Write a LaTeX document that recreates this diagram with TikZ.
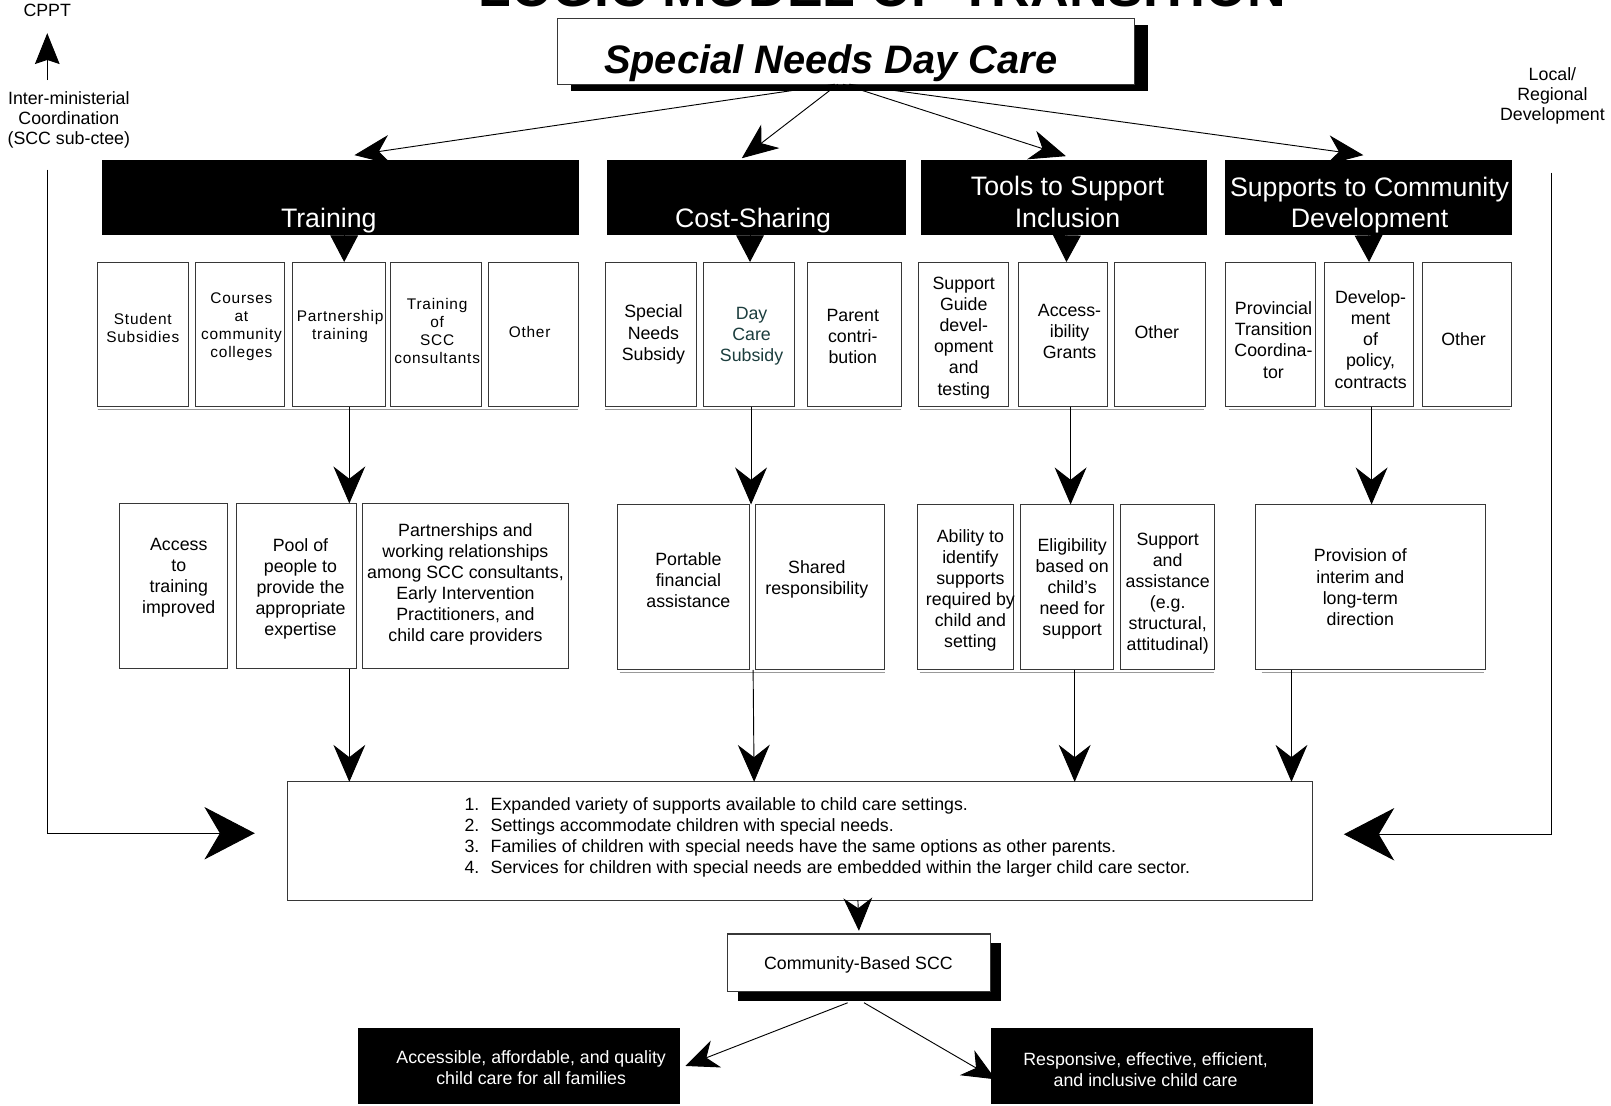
\documentclass[tikz,border=0pt]{standalone}
\usepackage{fontspec}
\setmainfont{Liberation Sans}
\newfontfamily\spacedfont[LetterSpace=5]{Liberation Sans}
\usetikzlibrary{arrows.meta,shadows}
\definecolor{dcteal}{RGB}{28,62,62}
\definecolor{edge}{RGB}{55,55,55}

\newcommand\bx[9]{%
  \pgfmathsetmacro\bxw{#4-#2}%
  \pgfmathsetmacro\bxh{#5-#3}%
  \pgfmathsetmacro\bxcx{(#2+#4)/2}%
  \pgfmathsetmacro\bxcy{(#3+#5)/2}%
  \node[#6, minimum width=\bxw pt, minimum height=\bxh pt] (#1) at (\bxcx,\bxcy) {};
  \node[#7] (#1t) at ([shift={(#8)}]#1.center) {#9};}

\tikzset{
 bbox/.style={draw=edge, line width=0.9pt, fill=white, inner sep=0pt, outer sep=0pt},
 catbox/.style={fill=black, draw=black, line width=0.5pt, inner sep=0pt, outer sep=0pt},
 cattxt/.style={text=white, font=\fontsize{26}{30.5}\selectfont, align=center, inner sep=0pt},
 tA/.style={font=\fontsize{17.3}{20.5}\selectfont, align=center, inner sep=0pt, yshift=-3pt},
 tS/.style={font=\spacedfont\fontsize{15}{17.3}\selectfont, align=center, inner sep=0pt, yshift=-1pt},
 wtxt/.style={font=\fontsize{17.3}{20.5}\selectfont, align=center, inner sep=0pt, text=white},
 side/.style={font=\fontsize{17.3}{19.6}\selectfont, align=center, inner sep=0pt},
 conn/.style={draw=black, line width=0.9pt},
 arrTop/.style={conn, -{Stealth[length=35pt,width=29pt,inset=11pt]}},
 arrTri/.style={conn, -{Triangle[length=26pt,width=27pt]}},
 arrV/.style={conn, -{Stealth[length=36pt,width=31pt,inset=12pt]}},
 arrBig/.style={conn, -{Stealth[length=49pt,width=51pt,inset=15pt]}},
 arrS/.style={conn, -{Stealth[length=32pt,width=28pt,inset=10pt]}},
 arrUp/.style={conn, -{Stealth[length=30pt,width=24pt,inset=4pt]}},
 uline/.style={draw=black!40, line width=0.8pt},
}

\begin{document}
\begin{tikzpicture}[x=1pt,y=-1pt]
\useasboundingbox (0,0) rectangle (1568,1076);
\fill[white] (0,0) rectangle (1568,1076);

% title (cut by the top edge, as in the reference)
\node[anchor=base, inner sep=0pt, font=\fontsize{52}{60}\selectfont\bfseries] (title) at (858.5,6) {LOGIC MODEL OF TRANSITION};

% side labels
\node[side] (cppt) at (46,10) {CPPT};
\node[side] (inter) at (67,116.5) {Inter-ministerial\\Coordination\\(SCC sub-ctee)};
\node[side] (local) at (1511,93.5) {Local/\\Regional\\Development};

% main box
\node[bbox, line width=1pt, minimum width=561pt, minimum height=64pt,
      drop shadow={shadow xshift=13pt, shadow yshift=-6.5pt, opacity=1, fill=black}] (snd) at (823.5,50) {};
\node[anchor=base, inner sep=0pt, font=\fontsize{38.7}{44}\selectfont\bfseries\itshape] (sndt) at (808.5,71.5) {Special Needs Day Care};

% category boxes
\node[catbox, minimum width=463pt, minimum height=72pt] (train) at (331.5,192) {};
\node[catbox, minimum width=290pt, minimum height=72pt] (cost) at (736,192) {};
\node[catbox, minimum width=277pt, minimum height=72pt] (tools) at (1035.5,192) {};
\node[catbox, minimum width=278pt, minimum height=72pt] (supp) at (1332,192) {};
\node[cattxt, anchor=base] (traint) at (320,221) {Training};
\node[cattxt, anchor=base] (costt) at (733,221) {Cost-Sharing};
\node[cattxt] (toolst) at (1039,196.5) {Tools to Support\\Inclusion};
\node[cattxt] (suppt) at (1333,199.3) {Supports to Community\\Development};

% row 1
\bx{s1}{95}{255}{183}{396}{bbox}{tS}{0,-7.5}{Student\\Subsidies}
\bx{s2}{190}{255}{277}{396}{bbox}{tS}{1.5,-8.5}{Courses\\at\\community\\colleges}
\bx{s3}{285}{255}{375}{396}{bbox}{tS}{1,-9}{Partnership\\training}
\bx{s4}{380}{255}{469}{396}{bbox}{tS}{1,-4.5}{Training\\of\\SCC\\consultants}
\bx{s5}{475}{255}{563}{396}{bbox}{tS}{-3.5,-3.5}{Other}
\bx{c1}{589}{255}{678}{396}{bbox}{tA}{2.5,-3}{Special\\Needs\\Subsidy}
\bx{c2}{685}{255}{773}{396}{bbox}{tA,text=dcteal}{2.5,-1}{Day\\Care\\Subsidy}
\bx{c3}{786}{255}{877}{396}{bbox}{tA}{-1.5,-1}{Parent\\contri-\\bution}
\bx{u1}{894}{255}{982}{396}{bbox}{tA}{0,0.5}{Support\\Guide\\devel-\\opment\\and\\testing}
\bx{u2}{991}{255}{1078}{396}{bbox}{tA}{6.5,-5.5}{Access-\\ibility\\Grants}
\bx{u3}{1085}{255}{1173}{396}{bbox}{tA}{-3,-5.5}{Other}
\bx{p1}{1193}{255}{1280}{396}{bbox}{tA}{3,2.5}{Provincial\\Transition\\Coordina-\\tor}
\bx{p2}{1289}{255}{1376}{396}{bbox}{tA}{1.5,2}{Develop-\\ment\\of\\policy,\\contracts}
\bx{p3}{1384}{255}{1471}{396}{bbox}{tA}{-3,1.5}{Other}
\draw[uline] (95,398.5) -- (563,398.5);
\draw[uline] (589,398.5) -- (877,398.5);
\draw[uline] (895,398.5) -- (1172,398.5);
\draw[uline] (1196,398.5) -- (1470,398.5);

% row 2
\bx{o1}{116}{490}{221}{651}{bbox}{tA}{5.5,-11}{Access\\to\\training\\improved}
\bx{o2}{230}{490}{347}{651}{bbox}{tA}{4,-0.5}{Pool of\\people to\\provide the\\appropriate\\expertise}
\bx{o3}{353}{490}{553}{651}{bbox}{tA}{0,-4.5}{Partnerships and\\working relationships\\among SCC consultants,\\Early Intervention\\Practitioners, and\\child care providers}
\bx{o4}{601}{491}{729}{652}{bbox}{tA}{5,-10}{Portable\\financial\\assistance}
\bx{o5}{735}{491}{861}{652}{bbox}{tA}{-3,-11}{Shared\\responsibility}
\bx{o6}{893}{491}{986}{652}{bbox}{tA}{5,0}{Ability to\\identify\\supports\\required by\\child and\\setting}
\bx{o7}{993}{491}{1084}{652}{bbox}{tA}{5,-1.5}{Eligibility\\based on\\child's\\need for\\support}
\bx{o8}{1091}{491}{1182}{652}{bbox}{tA}{0,3.5}{Support\\and\\assistance\\(e.g.\\structural,\\attitudinal)}
\bx{o9}{1222}{491}{1446}{652}{bbox}{tA}{-10,-3}{Provision of\\interim and\\long-term\\direction}
\draw[uline] (603,654.5) -- (861,654.5);
\draw[uline] (895,654.5) -- (1182,654.5);
\draw[uline] (1228,654.5) -- (1444,654.5);

% results box
\node[bbox, minimum width=997pt, minimum height=115pt] (res) at (778.5,818.5) {};
\node[anchor=west, inner sep=0pt, font=\fontsize{17.3}{20.5}\selectfont] (rest) at (452,815.5)
 {\begin{tabular}{@{}r@{\hspace{11pt}}l@{}}
 1.&Expanded variety of supports available to child care settings.\\
 2.&Settings accommodate children with special needs.\\
 3.&Families of children with special needs have the same options as other parents.\\
 4.&Services for children with special needs are embedded within the larger child care sector.
 \end{tabular}};

% community-based box
\node[bbox, line width=1.4pt, minimum width=256pt, minimum height=56pt,
      drop shadow={shadow xshift=10pt, shadow yshift=-9pt, opacity=1, fill=black}] (scc) at (836,937) {};
\node[inner sep=0pt, font=\fontsize{17.3}{20.5}\selectfont] (scct) at (835.5,939) {Community-Based SCC};

% outcome boxes
\node[catbox, minimum width=312pt, minimum height=73pt] (bl) at (505,1037.5) {};
\node[wtxt] (blt) at (517,1039) {Accessible, affordable, and quality\\child care for all families};
\node[catbox, minimum width=312pt, minimum height=73pt] (br) at (1121,1037.5) {};
\node[wtxt] (brt) at (1115,1041) {Responsive, effective, efficient,\\and inclusive child care};

% connectors: main box to categories
\draw[arrTop] ([xshift=-11pt]snd.south) -- ([xshift=13.5pt,yshift=5pt]train.north);
\draw[arrTop] ([xshift=-8pt]snd.south) -- ([xshift=-14pt,yshift=2pt]cost.north);
\draw[arrTop] ([xshift=-3pt]snd.south) -- ([xshift=2pt,yshift=4pt]tools.north);
\draw[arrTop] ([xshift=3pt]snd.south) -- ([xshift=-5pt,yshift=5pt]supp.north);

% categories to row 1
\draw[arrTri] ([xshift=3.5pt]train.south) -- ([xshift=5pt]s3.north);
\draw[arrTri] ([xshift=-6pt]cost.south) -- ([xshift=1pt]c2.north);
\draw[arrTri] ([xshift=3pt]tools.south) -- ([xshift=3.5pt]u2.north);
\draw[arrTri] (supp.south) -- (p2.north);

% row 1 to row 2
\draw[arrV] ([xshift=10pt]s3.south) -- ([xshift=51.5pt]o2.north);
\draw[arrV] ([xshift=2pt]c2.south) -- ([xshift=2pt]o4.north east);
\draw[arrV] ([xshift=7.5pt]u2.south) -- ([xshift=3.5pt]o7.north);
\draw[arrV] ([xshift=2.5pt]p2.south) -- ([xshift=1pt]o9.north);

% row 2 to results
\draw[arrV] ([xshift=51.5pt]o2.south) -- ([xshift=-438.5pt]res.north);
\draw[arrV] ([xshift=4pt]o4.south east) -- ([xshift=-44.5pt]res.north);
\draw[arrV] ([xshift=7.5pt]o7.south) -- ([xshift=267.5pt]res.north);
\draw[arrV] ([xshift=-77pt]o9.south) -- ([xshift=478.5pt]res.north);

% side feedback
\coordinate (cfoot) at (46,78);
\draw[arrUp] (cfoot) -- ([yshift=-16pt]cppt.south);
\coordinate (lfoot) at (46,165);
\draw[arrBig] (lfoot) |- ([xshift=-32pt,yshift=7.5pt]res.west);
\coordinate (rfoot) at (1510,168);
\draw[arrBig] (rfoot) |- ([xshift=31pt,yshift=6.5pt]res.east);

% results to community, community to outcomes
\draw[arrS] ([xshift=56.5pt]res.south) -- ([yshift=3pt]scc.north);
\draw[arrS] ([xshift=-11pt,yshift=-11pt]scc.south) -- ([xshift=6pt]bl.east);
\draw[arrS] ([xshift=5pt,yshift=-11pt]scc.south) -- ([xshift=4pt,yshift=-13pt]br.west);
\end{tikzpicture}
\end{document}
